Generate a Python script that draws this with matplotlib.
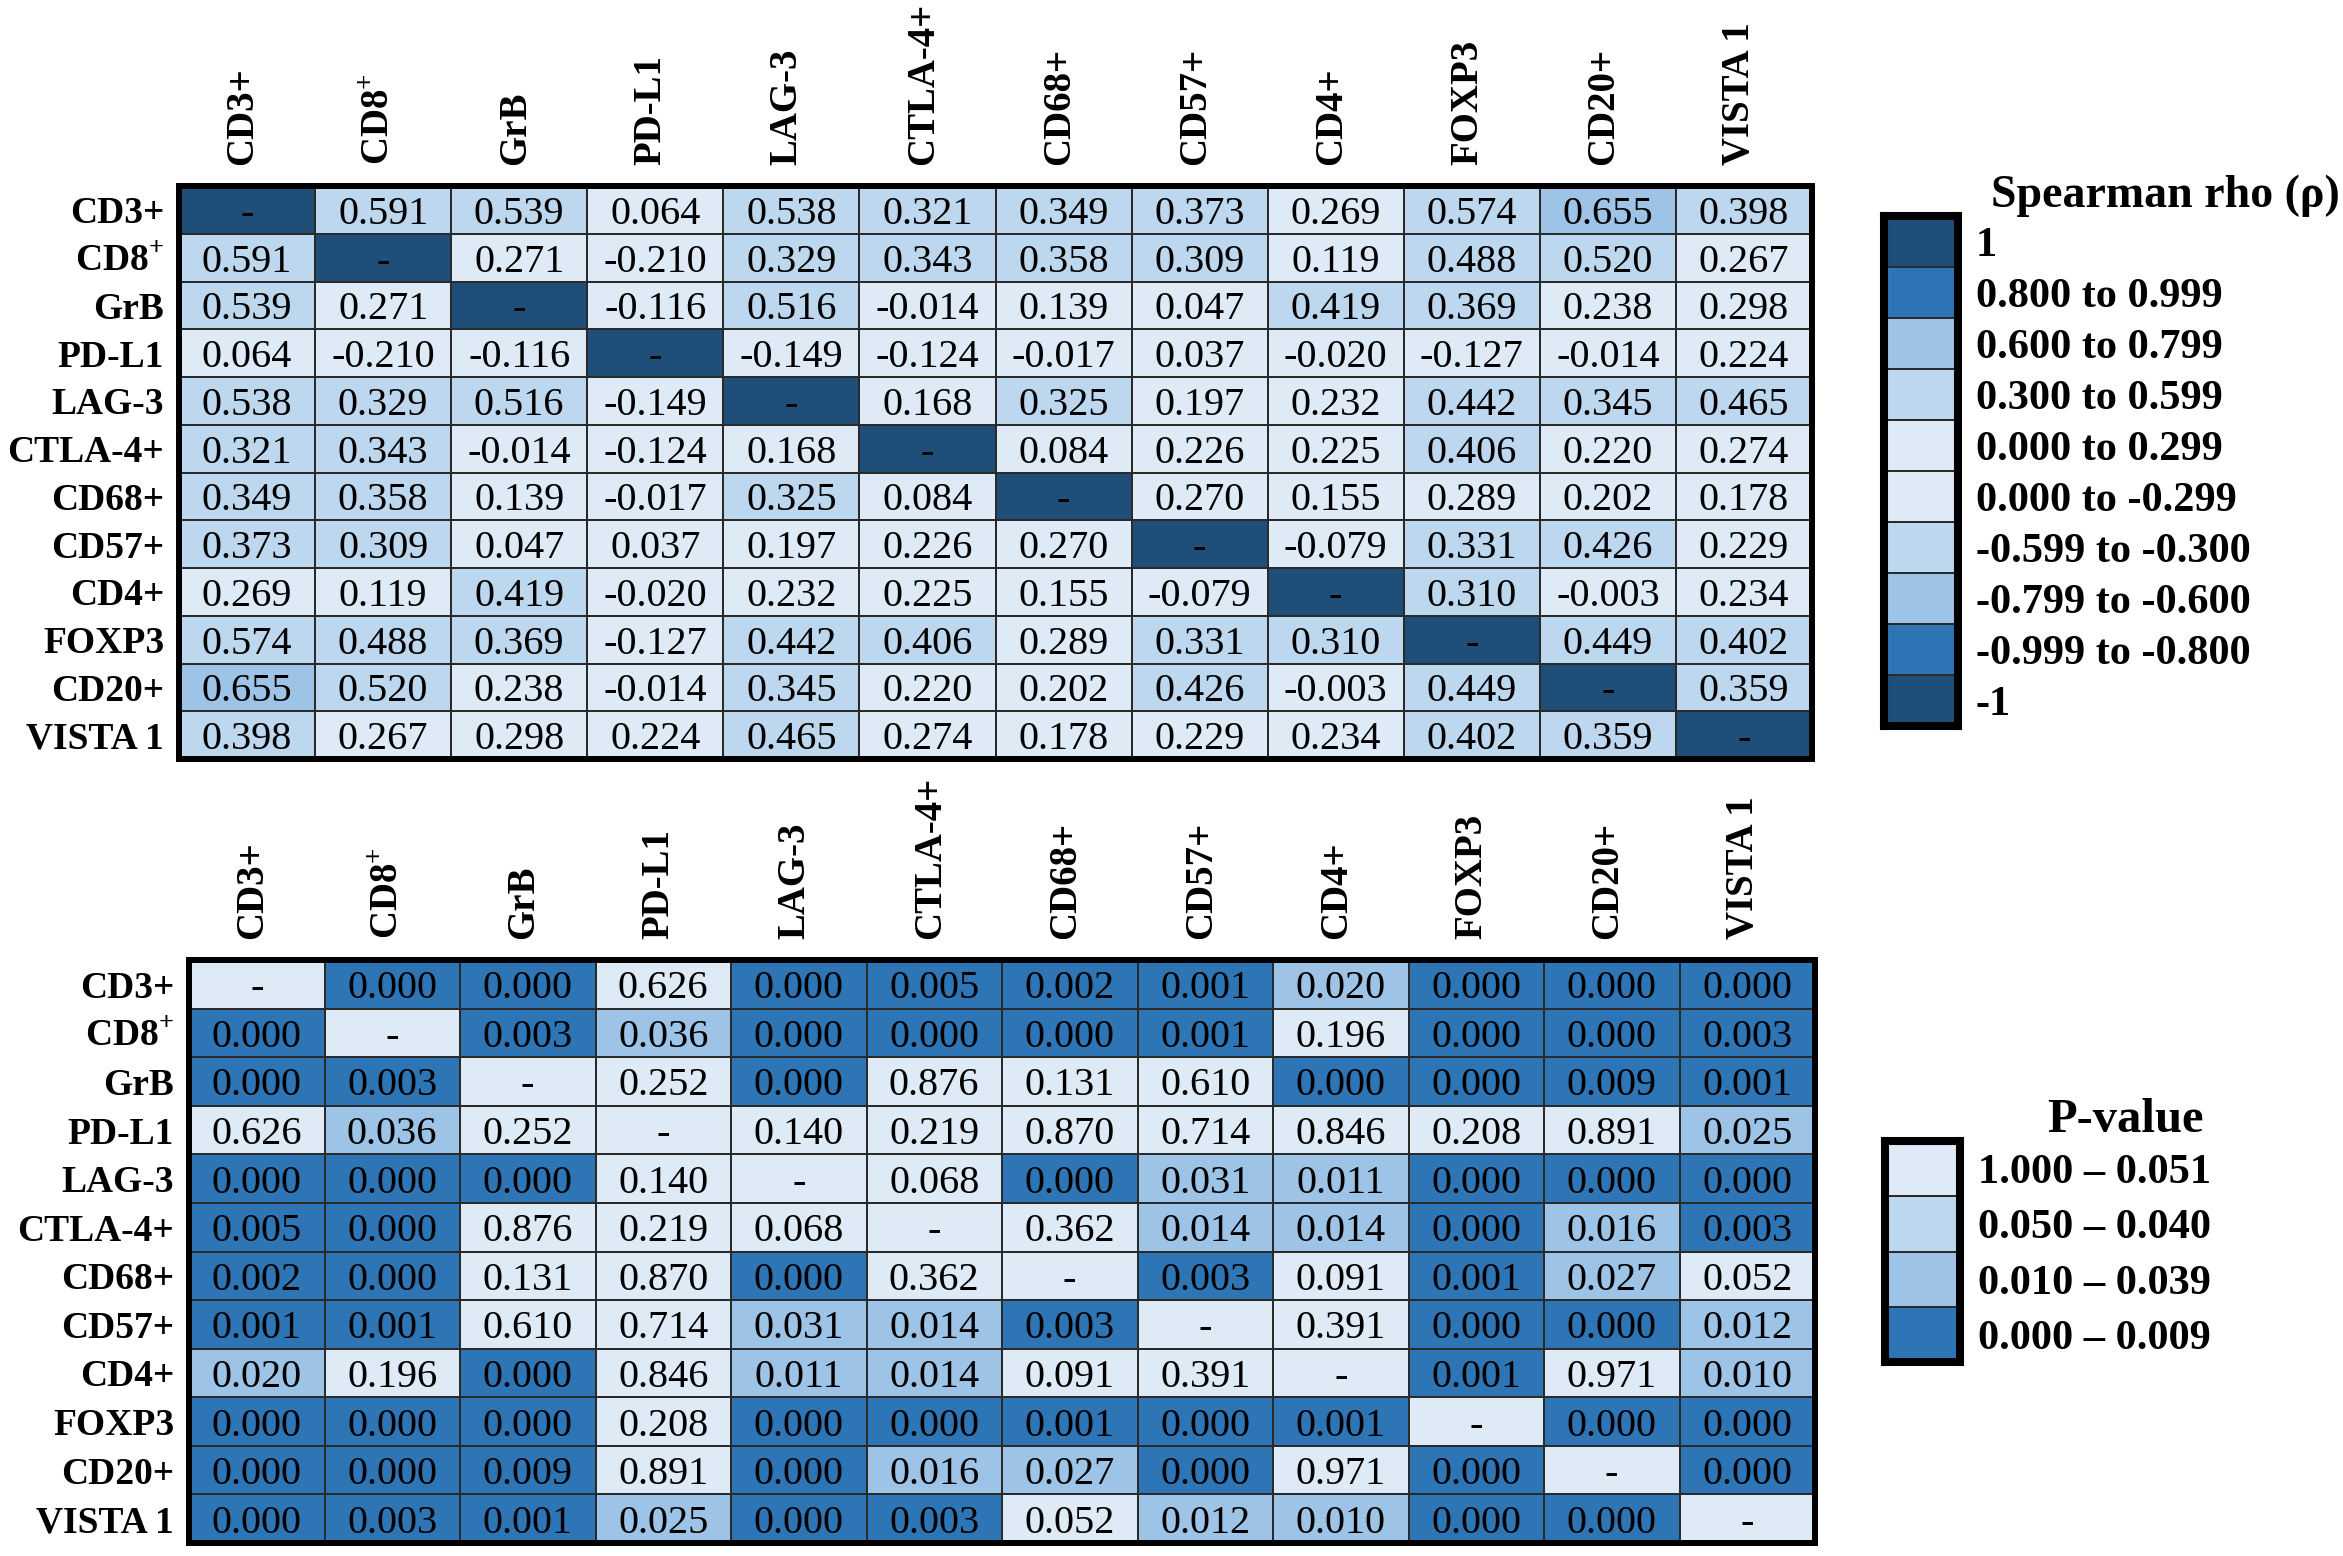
import matplotlib
matplotlib.use("Agg")
import matplotlib.pyplot as plt
from matplotlib.colors import ListedColormap
import numpy as np

plt.rcParams['font.family'] = 'Liberation Serif'
plt.rcParams['mathtext.fontset'] = 'custom'
plt.rcParams['mathtext.rm'] = 'Liberation Serif'
plt.rcParams['mathtext.bf'] = 'Liberation Serif:bold'

markers = ['CD3+', r'CD8$^{\mathbf{+}}$', 'GrB', 'PD-L1', 'LAG-3', 'CTLA-4+',
           'CD68+', 'CD57+', 'CD4+', 'FOXP3', 'CD20+', 'VISTA 1']

# Spearman rho, None on the diagonal
rho = [
    [None, 0.591, 0.539, 0.064, 0.538, 0.321, 0.349, 0.373, 0.269, 0.574, 0.655, 0.398],
    [0.591, None, 0.271, -0.210, 0.329, 0.343, 0.358, 0.309, 0.119, 0.488, 0.520, 0.267],
    [0.539, 0.271, None, -0.116, 0.516, -0.014, 0.139, 0.047, 0.419, 0.369, 0.238, 0.298],
    [0.064, -0.210, -0.116, None, -0.149, -0.124, -0.017, 0.037, -0.020, -0.127, -0.014, 0.224],
    [0.538, 0.329, 0.516, -0.149, None, 0.168, 0.325, 0.197, 0.232, 0.442, 0.345, 0.465],
    [0.321, 0.343, -0.014, -0.124, 0.168, None, 0.084, 0.226, 0.225, 0.406, 0.220, 0.274],
    [0.349, 0.358, 0.139, -0.017, 0.325, 0.084, None, 0.270, 0.155, 0.289, 0.202, 0.178],
    [0.373, 0.309, 0.047, 0.037, 0.197, 0.226, 0.270, None, -0.079, 0.331, 0.426, 0.229],
    [0.269, 0.119, 0.419, -0.020, 0.232, 0.225, 0.155, -0.079, None, 0.310, -0.003, 0.234],
    [0.574, 0.488, 0.369, -0.127, 0.442, 0.406, 0.289, 0.331, 0.310, None, 0.449, 0.402],
    [0.655, 0.520, 0.238, -0.014, 0.345, 0.220, 0.202, 0.426, -0.003, 0.449, None, 0.359],
    [0.398, 0.267, 0.298, 0.224, 0.465, 0.274, 0.178, 0.229, 0.234, 0.402, 0.359, None],
]

# p-values, None on the diagonal
pval = [
    [None, 0.000, 0.000, 0.626, 0.000, 0.005, 0.002, 0.001, 0.020, 0.000, 0.000, 0.000],
    [0.000, None, 0.003, 0.036, 0.000, 0.000, 0.000, 0.001, 0.196, 0.000, 0.000, 0.003],
    [0.000, 0.003, None, 0.252, 0.000, 0.876, 0.131, 0.610, 0.000, 0.000, 0.009, 0.001],
    [0.626, 0.036, 0.252, None, 0.140, 0.219, 0.870, 0.714, 0.846, 0.208, 0.891, 0.025],
    [0.000, 0.000, 0.000, 0.140, None, 0.068, 0.000, 0.031, 0.011, 0.000, 0.000, 0.000],
    [0.005, 0.000, 0.876, 0.219, 0.068, None, 0.362, 0.014, 0.014, 0.000, 0.016, 0.003],
    [0.002, 0.000, 0.131, 0.870, 0.000, 0.362, None, 0.003, 0.091, 0.001, 0.027, 0.052],
    [0.001, 0.001, 0.610, 0.714, 0.031, 0.014, 0.003, None, 0.391, 0.000, 0.000, 0.012],
    [0.020, 0.196, 0.000, 0.846, 0.011, 0.014, 0.091, 0.391, None, 0.001, 0.971, 0.010],
    [0.000, 0.000, 0.000, 0.208, 0.000, 0.000, 0.001, 0.000, 0.001, None, 0.000, 0.000],
    [0.000, 0.000, 0.009, 0.891, 0.000, 0.016, 0.027, 0.000, 0.971, 0.000, None, 0.000],
    [0.000, 0.003, 0.001, 0.025, 0.000, 0.003, 0.052, 0.012, 0.010, 0.000, 0.000, None],
]

rho_legend = ['1', '0.800 to 0.999', '0.600 to 0.799', '0.300 to 0.599',
              '0.000 to 0.299', '0.000 to -0.299', '-0.599 to -0.300',
              '-0.799 to -0.600', '-0.999 to -0.800', '-1']
rho_legend_levels = [0, 1, 2, 3, 4, 4, 3, 2, 1, 0]
p_legend = ['1.000 \u2013 0.051', '0.050 \u2013 0.040', '0.010 \u2013 0.039', '0.000 \u2013 0.009']
p_legend_levels = [3, 2, 1, 0]

rho_colors = ['#1f4e79', '#2e75b6', '#9dc3e6', '#bdd7ee', '#deebf7']
p_colors = ['#2e75b6', '#9dc3e6', '#bdd7ee', '#deebf7']


def rho_level(v):
    if v is None:
        return 0
    a = abs(v)
    if a >= 0.8:
        return 1
    if a >= 0.6:
        return 2
    if a >= 0.3:
        return 3
    return 4


def p_level(v):
    if v is None:
        return 3
    if v <= 0.009:
        return 0
    if v <= 0.039:
        return 1
    if v <= 0.050:
        return 2
    return 3


W, H = 2343, 1556
fig = plt.figure(figsize=(W / 100, H / 100), dpi=100)


def px_axes(x0, y0, x1, y1):
    return fig.add_axes([x0 / W, 1 - y1 / H, (x1 - x0) / W, (y1 - y0) / H])


def draw_table(ax, values, level_fn, colors, border_px):
    n = len(values)
    levels = np.array([[level_fn(v) for v in row] for row in values])
    cmap = ListedColormap(colors)
    ax.pcolormesh(levels, cmap=cmap, vmin=-0.5, vmax=len(colors) - 0.5,
                  edgecolors='#2a2a2a', linewidth=1.1)
    ax.set_xlim(0, n)
    ax.set_ylim(n, 0)
    ax.set_xticks([])
    ax.set_yticks([])
    for s in ax.spines.values():
        s.set_linewidth(border_px * 0.72)
        s.set_color('black')
    for i, row in enumerate(values):
        for j, v in enumerate(row):
            txt = '-' if v is None else f'{v:.3f}'
            ax.text(j + 0.5, i + 0.5, txt, ha='center', va='center_baseline',
                    fontsize=29)
    # row labels on the left, rotated column labels on top
    for i, name in enumerate(markers):
        ax.text(-0.11, i + 0.5, name, ha='right', va='center_baseline',
                fontsize=27, fontweight='bold', clip_on=False)
    for j, name in enumerate(markers):
        ax.text(j + 0.47, -0.44, name, ha='center', va='bottom', rotation=90,
                fontsize=28, fontweight='bold', clip_on=False)


def draw_legend(ax, labels, levels, colors, title, title_x, title_ha, title_size,
                text_size, row_px):
    n = len(labels)
    cmap = ListedColormap(colors)
    ax.pcolormesh(np.array(levels).reshape(n, 1), cmap=cmap, vmin=-0.5,
                  vmax=len(colors) - 0.5, edgecolors='#2a2a2a', linewidth=1.1)
    ax.set_xlim(0, 1)
    ax.set_ylim(n, 0)
    ax.set_xticks([])
    ax.set_yticks([])
    for s in ax.spines.values():
        s.set_linewidth(5.8)
        s.set_color('black')
    for i, lab in enumerate(labels):
        ax.text(1.24, i + 0.5, lab, ha='left', va='center_baseline',
                fontsize=text_size, fontweight='bold', clip_on=False)
    ax.text(title_x, -9 / row_px, title, ha=title_ha, va='baseline',
            fontsize=title_size, fontweight='bold', clip_on=False)


ax_rho = px_axes(179, 186, 1812, 759)
draw_table(ax_rho, rho, rho_level, rho_colors, 6)

ax_p = px_axes(189, 960, 1815, 1543)
draw_table(ax_p, pval, p_level, p_colors, 6)

ax_leg1 = px_axes(1884, 216, 1958, 726)
draw_legend(ax_leg1, rho_legend, rho_legend_levels, rho_colors,
            'Spearman rho (\u03c1)', 1.45, 'left', 33, 30.5, 51.8)

ax_leg2 = px_axes(1885, 1141, 1960, 1362)
draw_legend(ax_leg2, p_legend, p_legend_levels, p_colors,
            'P-value', 3.2, 'center', 35, 30.5, 57.2)

fig.savefig('out.png', dpi=100, facecolor='white')
